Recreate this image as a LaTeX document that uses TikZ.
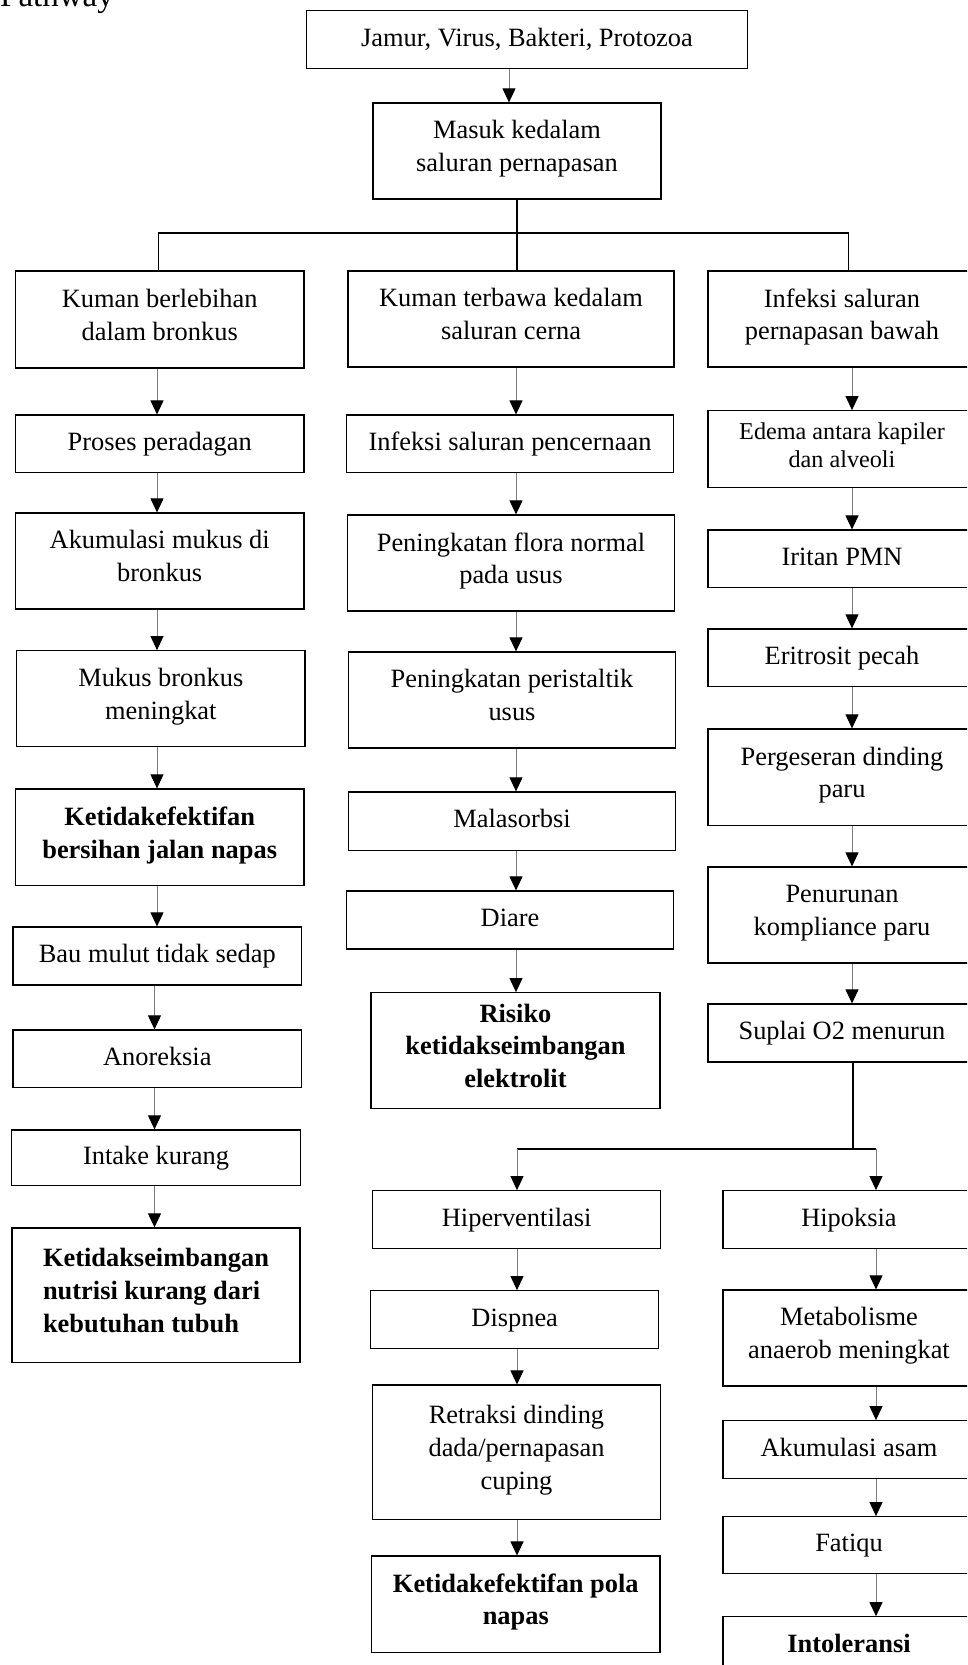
\documentclass[tikz,border=0pt]{standalone}
\usepackage{fontspec}
\setmainfont{Liberation Serif}
\usetikzlibrary{arrows.meta,calc}
\definecolor{linegray}{RGB}{125,125,125}
\begin{document}
\begin{tikzpicture}[x=1pt,y=-1pt,
  bx/.style={draw=black, line width=1.2pt, rectangle, inner sep=0pt, align=center,
    font=\fontsize{26.4}{32.7}\selectfont,
    execute at begin node=\strut, execute at end node=\strut},
  bxb/.style={bx, font=\fontsize{26.4}{32.7}\selectfont\bfseries},
  bxs/.style={bx, font=\fontsize{24.2}{28.3}\selectfont},
  arr/.style={draw=linegray, line width=1pt, -{Triangle[length=14pt,width=13pt,color=black]}},
  tree/.style={draw=black, line width=1.2pt}]
\useasboundingbox (0,0) rectangle (967,1665);
\clip (0,0) rectangle (967,1665);

\node[anchor=base west, inner sep=0pt, font=\fontsize{33}{40}\selectfont] (pw) at (0,6) {Pathway};

% top
\node[bx, minimum width=441, minimum height=57.6] (top) at (527,39.5) {Jamur, Virus, Bakteri, Protozoa};
\node[bx, minimum width=288, minimum height=96] (masuk) at (517,151) {Masuk kedalam\\saluran pernapasan};

% column 1
\node[bx, minimum width=288.6, minimum height=97] (k1) at (159.7,319.5) {Kuman berlebihan\\dalam bronkus};
\node[bx, minimum width=288.6, minimum height=57.7] (proses) at (159.7,443.9) {Proses peradagan};
\node[bx, minimum width=288.6, minimum height=96] (akum) at (159.7,561) {Akumulasi mukus di\\bronkus};
\node[bx, minimum width=288.2, minimum height=96] (mukus) at (160.8,698.7) {Mukus bronkus\\meningkat};
\node[bxb, minimum width=288.6, minimum height=96.7] (ketb) at (159.7,837.3) {Ketidakefektifan\\bersihan jalan napas};
\node[bx, minimum width=288.6, minimum height=58] (bau) at (157.3,956) {Bau mulut tidak sedap};
\node[bx, minimum width=288.6, minimum height=57.7] (anor) at (157.3,1058.8) {Anoreksia};
\node[bx, minimum width=288.8, minimum height=55.7] (intake) at (156.1,1157.8) {Intake kurang};
\node[bxb, minimum width=288, minimum height=134.7, align=left] (ketseimb) at (156,1295.3) {Ketidakseimbangan\\nutrisi kurang dari\\kebutuhan tubuh};

% column 2
\node[bx, minimum width=326, minimum height=96] (k2) at (511,319) {Kuman terbawa kedalam\\saluran cerna};
\node[bx, minimum width=327, minimum height=57.7] (infeksi) at (510,443.9) {Infeksi saluran pencernaan};
\node[bx, minimum width=327, minimum height=96] (flora) at (511,563) {Peningkatan flora normal\\pada usus};
\node[bx, minimum width=327, minimum height=96] (peris) at (512,700) {Peningkatan peristaltik\\usus};
\node[bx, minimum width=327, minimum height=58.3] (mala) at (512,821.1) {Malasorbsi};
\node[bx, minimum width=327, minimum height=58] (diare) at (510,920) {Diare};
\node[bxb, minimum width=289, minimum height=116] (risiko) at (515.5,1050.7) {Risiko\\ketidakseimbangan\\elektrolit};

% column 3
\node[bx, minimum width=268, minimum height=96] (k3) at (842,319) {Infeksi saluran\\pernapasan bawah};
\node[bxs, minimum width=268, minimum height=76.6] (edema) at (842,449) {Edema antara kapiler\\dan alveoli};
\node[bx, minimum width=268, minimum height=57.3] (iritan) at (842,558.7) {Iritan PMN};
\node[bx, minimum width=268, minimum height=57.7] (eritro) at (842,657.8) {Eritrosit pecah};
\node[bx, minimum width=268, minimum height=96.7] (perges) at (842,777.3) {Pergeseran dinding\\paru};
\node[bx, minimum width=268, minimum height=96] (penur) at (842,915) {Penurunan\\kompliance paru};
\node[bx, minimum width=268, minimum height=58] (suplai) at (842,1033) {Suplai O2 menurun};

% bottom left branch
\node[bx, minimum width=288.3, minimum height=57.8] (hiper) at (516.7,1219.6) {Hiperventilasi};
\node[bx, minimum width=288.1, minimum height=57.6] (disp) at (514.7,1319.5) {Dispnea};
\node[bx, minimum width=288.5, minimum height=134.3] (retr) at (516.5,1452.2) {Retraksi dinding\\dada/pernapasan\\cuping};
\node[bxb, minimum width=288.5, minimum height=96.3] (pola) at (515.8,1604.2) {Ketidakefektifan pola\\napas};

% bottom right branch
\node[bx, minimum width=252, minimum height=57.6] (hipok) at (849,1219.5) {Hipoksia};
\node[bx, minimum width=252, minimum height=96] (meta) at (849,1338) {Metabolisme\\anaerob meningkat};
\node[bx, minimum width=252, minimum height=57.6] (asam) at (849,1449.5) {Akumulasi asam};
\node[bx, minimum width=252, minimum height=57] (fatiqu) at (849,1545.2) {Fatiqu};
\node[bxb, minimum width=252, minimum height=96.3] (intol) at (849,1664.9) {Intoleransi\\\mbox{}};

% x positions of connectors
\coordinate (ca) at (509,0);
\coordinate (c1a) at (157,0);
\coordinate (c1b) at (154.5,0);
\coordinate (c2) at (516,0);
\coordinate (c3) at (852,0);
\coordinate (c4) at (517,0);
\coordinate (c5) at (876,0);
\coordinate (t1) at (158.5,0);
\coordinate (t3) at (848.6,0);
\coordinate (s0) at (853,0);
\coordinate (jy) at (0,233);
\coordinate (jy2) at (0,1149);

% tree lines
\draw[tree] (masuk.south) -- (masuk.south |- k2.north);
\draw[tree] (t1 |- k1.north) -- (t1 |- jy) -- (t3 |- jy) -- (t3 |- k3.north);
\draw[tree] (s0 |- suplai.south) -- (s0 |- jy2);
\draw[tree] (c4 |- jy2) -- (c5 |- jy2);

% arrows
\draw[arr] (ca |- top.south) -- (ca |- masuk.north);

\draw[arr] (c1a |- k1.south) -- (c1a |- proses.north);
\draw[arr] (c1a |- proses.south) -- (c1a |- akum.north);
\draw[arr] (c1a |- akum.south) -- (c1a |- mukus.north);
\draw[arr] (c1a |- mukus.south) -- (c1a |- ketb.north);
\draw[arr] (c1a |- ketb.south) -- (c1a |- bau.north);
\draw[arr] (c1b |- bau.south) -- (c1b |- anor.north);
\draw[arr] (c1b |- anor.south) -- (c1b |- intake.north);
\draw[arr] (c1b |- intake.south) -- (c1b |- ketseimb.north);

\draw[arr] (c2 |- k2.south) -- (c2 |- infeksi.north);
\draw[arr] (c2 |- infeksi.south) -- (c2 |- flora.north);
\draw[arr] (c2 |- flora.south) -- (c2 |- peris.north);
\draw[arr] (c2 |- peris.south) -- (c2 |- mala.north);
\draw[arr] (c2 |- mala.south) -- (c2 |- diare.north);
\draw[arr] (c2 |- diare.south) -- (c2 |- risiko.north);

\draw[arr] (c3 |- k3.south) -- (c3 |- edema.north);
\draw[arr] (c3 |- edema.south) -- (c3 |- iritan.north);
\draw[arr] (c3 |- iritan.south) -- (c3 |- eritro.north);
\draw[arr] (c3 |- eritro.south) -- (c3 |- perges.north);
\draw[arr] (c3 |- perges.south) -- (c3 |- penur.north);
\draw[arr] (c3 |- penur.south) -- (c3 |- suplai.north);

\draw[arr] (c4 |- jy2) -- (c4 |- hiper.north);
\draw[arr] (c5 |- jy2) -- (c5 |- hipok.north);

\draw[arr] (c4 |- hiper.south) -- (c4 |- disp.north);
\draw[arr] (c4 |- disp.south) -- (c4 |- retr.north);
\draw[arr] (c4 |- retr.south) -- (c4 |- pola.north);

\draw[arr] (c5 |- hipok.south) -- (c5 |- meta.north);
\draw[arr] (c5 |- meta.south) -- (c5 |- asam.north);
\draw[arr] (c5 |- asam.south) -- (c5 |- fatiqu.north);
\draw[arr] (c5 |- fatiqu.south) -- (c5 |- intol.north);
\end{tikzpicture}
\end{document}
